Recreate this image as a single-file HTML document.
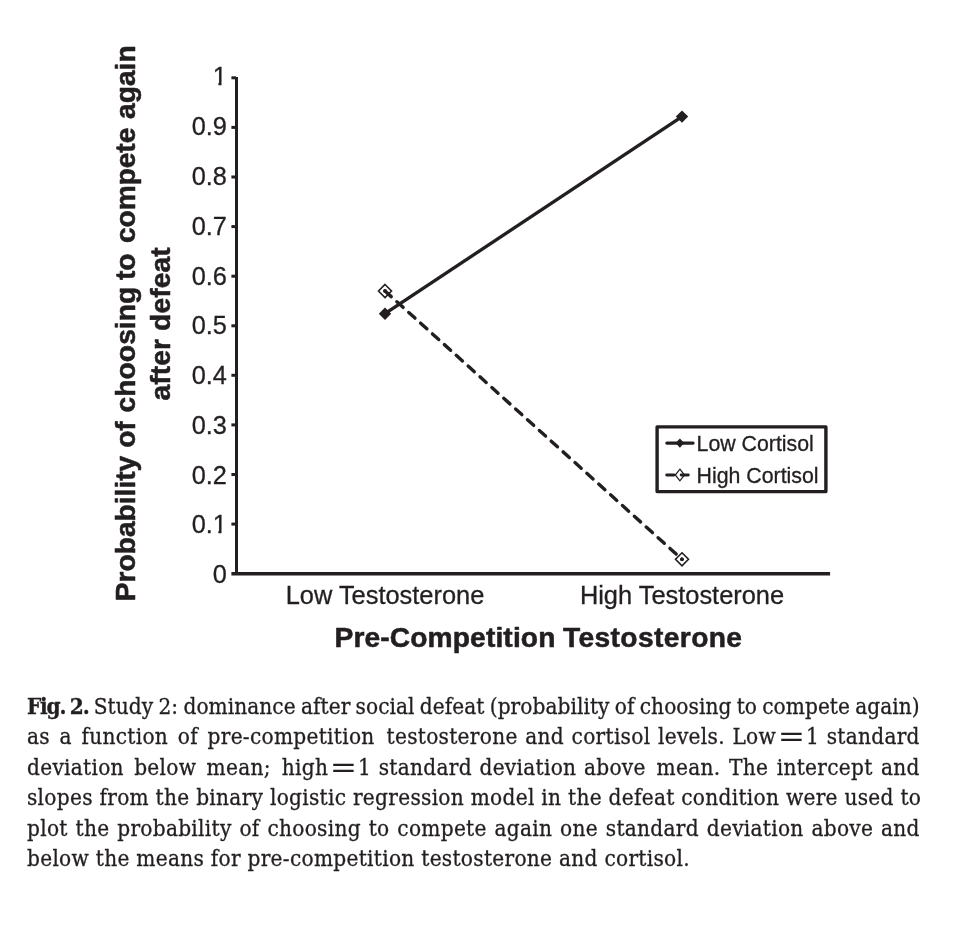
<!DOCTYPE html>
<html lang="en">
<head>
<meta charset="utf-8">
<title>Fig. 2</title>
<style>
  html, body { margin: 0; padding: 0; background: #ffffff; }
  body { width: 972px; height: 926px; position: relative; overflow: hidden; }
  svg { position: absolute; left: 0; top: 0; display: block; will-change: transform; }
  svg text { font-family: "Liberation Sans", sans-serif; fill: #231f20; stroke: #231f20; stroke-width: 0.3px; }
  .tick { font-size: 25.3px; text-anchor: end; }
  .cat { font-size: 25.4px; text-anchor: middle; }
  .leg { font-size: 21.3px; }
  .ttl { font-size: 28.2px; font-weight: bold; text-anchor: middle; letter-spacing: 0.12px; stroke: #231f20; stroke-width: 0.55px; stroke-linejoin: round; }
  .caption { will-change: transform; position: absolute; left: 26.9px; top: 690.7px; width: 892.8px; margin: 0;
    font-family: "DejaVu Serif Condensed", "DejaVu Serif", "Liberation Serif", serif;
    font-size: 22.4px; line-height: 30.4px; color: #231f20; letter-spacing: 0.29px; -webkit-text-stroke: 0.3px #231f20; }
  .caption span.l { display: block; text-align: justify; text-align-last: justify; white-space: nowrap; }
  .caption span.c { display: inline-block; text-align: justify; text-align-last: justify; white-space: nowrap; }
  .caption span.l1 { word-spacing: -1.6px; letter-spacing: 0.06px; }
  .caption span.last { text-align-last: left; }
  .caption b { letter-spacing: -1.2px; }
  .caption .eq { display: inline-block; transform: translateY(0.6px) scale(1.62, 1.3); transform-origin: 50% 60%; margin: 0 6.4px 0 6.6px; letter-spacing: 0; -webkit-text-stroke: 0; }
  .yw { text-anchor: start; }
</style>
</head>
<body>
<svg width="972" height="680" viewBox="0 0 972 680">
  <!-- axes -->
  <g stroke="#231f20" fill="none">
    <line x1="236.5" y1="77" x2="236.5" y2="575" stroke-width="3"/>
    <line x1="231.4" y1="573.75" x2="830.1" y2="573.75" stroke-width="3.6"/>
    <g stroke-width="3">
      <line x1="231.4" y1="77.8" x2="236" y2="77.8"/>
      <line x1="231.4" y1="127.4" x2="236" y2="127.4"/>
      <line x1="231.4" y1="177.0" x2="236" y2="177.0"/>
      <line x1="231.4" y1="226.6" x2="236" y2="226.6"/>
      <line x1="231.4" y1="276.2" x2="236" y2="276.2"/>
      <line x1="231.4" y1="325.8" x2="236" y2="325.8"/>
      <line x1="231.4" y1="375.3" x2="236" y2="375.3"/>
      <line x1="231.4" y1="424.9" x2="236" y2="424.9"/>
      <line x1="231.4" y1="474.5" x2="236" y2="474.5"/>
      <line x1="231.4" y1="524.1" x2="236" y2="524.1"/>
    </g>
  </g>
  <!-- tick labels -->
  <g class="tick">
    <text x="226.9" y="85.3">1</text>
    <text x="226.9" y="135.1">0.9</text>
    <text x="226.9" y="184.9">0.8</text>
    <text x="226.9" y="234.7">0.7</text>
    <text x="226.9" y="284.5">0.6</text>
    <text x="226.9" y="334.2">0.5</text>
    <text x="226.9" y="384.0">0.4</text>
    <text x="226.9" y="433.8">0.3</text>
    <text x="226.9" y="483.6">0.2</text>
    <text x="226.9" y="533.4">0.1</text>
    <text x="226.9" y="583.2">0</text>
  </g>
  <g fill="#ffffff">
    <rect x="213" y="82.6" width="5.4" height="4"/><rect x="221.5" y="82.6" width="6" height="4"/>
    <rect x="213" y="530.7" width="5.4" height="4"/><rect x="221.5" y="530.7" width="6" height="4"/>
  </g>
  <!-- category labels -->
  <text class="cat" x="385" y="604">Low Testosterone</text>
  <text class="cat" x="682" y="604">High Testosterone</text>
  <!-- axis titles -->
  <text class="ttl" x="445" y="646.5">Pre-Competition</text>
  <text class="ttl" x="652.7" y="646.5" style="letter-spacing:0.38px">Testosterone</text>
  <!-- ytitle1 -->
  <text class="ttl yw" transform="translate(135.4,601.20) rotate(-90)" style="letter-spacing:-0.020px">Probability</text>
  <text class="ttl yw" transform="translate(135.4,447.70) rotate(-90)" style="letter-spacing:-0.200px">of</text>
  <text class="ttl yw" transform="translate(135.4,412.40) rotate(-90)" style="letter-spacing:0.050px">choosing</text>
  <text class="ttl yw" transform="translate(135.4,280.00) rotate(-90)" style="letter-spacing:-0.200px">to</text>
  <text class="ttl yw" transform="translate(135.4,243.00) rotate(-90)" style="letter-spacing:-0.100px">compete</text>
  <text class="ttl yw" transform="translate(135.4,119.00) rotate(-90)" style="letter-spacing:0.000px">again</text>
  <!-- /ytitle1 -->
  <text class="ttl" transform="translate(169.6,323.9) rotate(-90)" x="0" y="0">after defeat</text>
  <!-- data lines -->
  <line x1="385" y1="313.7" x2="682" y2="116.6" stroke="#231f20" stroke-width="3.4"/>
  <line x1="385" y1="291" x2="682" y2="559.3" stroke="#231f20" stroke-width="3.4" stroke-dasharray="8.4 7.6" stroke-linecap="round"/>
  <!-- markers -->
  <path d="M385 307.5 L391.2 313.7 L385 319.9 L378.8 313.7 Z" fill="#231f20"/>
  <path d="M682 110.4 L688.2 116.6 L682 122.8 L675.8 116.6 Z" fill="#231f20"/>
  <path d="M385 284.5 L391.5 291 L385 297.5 L378.5 291 Z" fill="none" stroke="#231f20" stroke-width="1.6"/>
  <path d="M682 552.8 L688.5 559.3 L682 565.8 L675.5 559.3 Z" fill="none" stroke="#231f20" stroke-width="1.6"/>
  <circle cx="385" cy="291" r="1.9" fill="#231f20"/>
  <circle cx="682" cy="559.3" r="1.9" fill="#231f20"/>
  <!-- legend -->
  <rect x="657.1" y="426.9" width="168.8" height="64.7" fill="#fff" stroke="#231f20" stroke-width="3.4" stroke-linejoin="round"/>
  <line x1="666.8" y1="443.1" x2="693.1" y2="443.1" stroke="#231f20" stroke-width="3.1" stroke-linecap="round"/>
  <path d="M679.9 438.4 L684.2 443.1 L679.9 447.8 L675.6 443.1 Z" fill="#231f20"/>
  <path d="M666.7 475 H674.0 M681.2 475 H688.3" stroke="#231f20" stroke-width="2.9" stroke-linecap="round" fill="none"/>
  <path d="M679.9 469.2 L684.5 475 L679.9 480.8 L675.3 475 Z" fill="none" stroke="#231f20" stroke-width="1.25"/>
  <text class="leg" x="696.6" y="450.5">Low Cortisol</text>
  <text class="leg" x="696.6" y="482.5">High Cortisol</text>
</svg>
<p class="caption">
<span class="l l1"><b>Fig. 2.</b> Study 2: dominance after social defeat (probability of choosing to compete again)</span>
<span class="l"><span class="c" style="width:347.6px">as a function of pre-competition</span> <span class="c" style="width:533.2px">testosterone and cortisol levels. Low<span class="eq">=</span>1 standard</span></span>
<span class="l"><span class="c" style="width:243.8px">deviation below mean;</span> <span class="c" style="width:364px">high<span class="eq">=</span>1 standard deviation above</span> <span class="c" style="width:263.2px">mean. The intercept and</span></span>
<span class="l">slopes from the binary logistic regression model in the defeat condition were used to</span>
<span class="l">plot the probability of choosing to compete again one standard deviation above and</span>
<span class="l last">below the means for pre-competition testosterone and cortisol.</span>
</p>
</body>
</html>
